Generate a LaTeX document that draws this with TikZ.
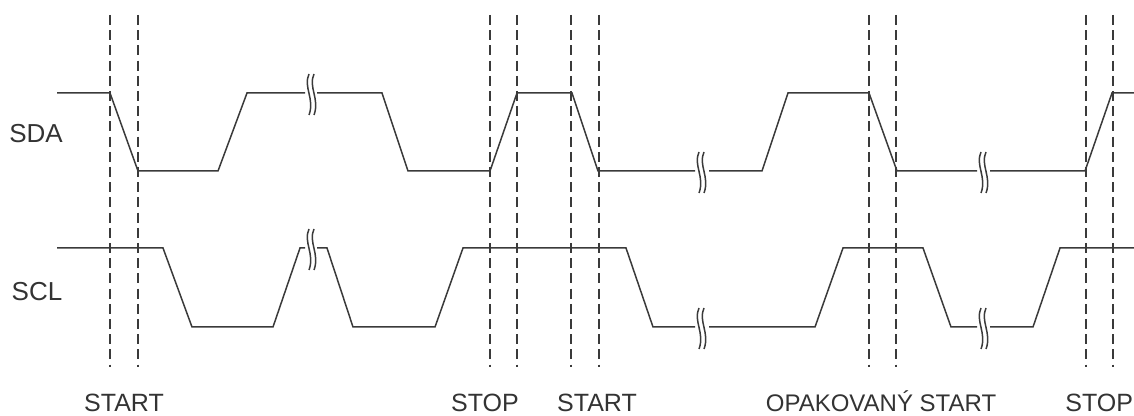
\documentclass[tikz,border=0pt]{standalone}
\usepackage{fontspec}
\setmainfont{Liberation Sans}
\usepackage{xcolor}
\usetikzlibrary{calc}
\definecolor{signal}{HTML}{3A3A3A}
\definecolor{popis}{HTML}{333333}
\tikzset{
  sig/.style={draw=signal, line width=0.75pt, line join=miter},
  dashline/.style={draw=signal, line width=0.6pt, dash pattern=on 5pt off 2.6pt},
  lbl/.style={text=popis, font=\fontsize{12.5}{14}\selectfont, inner sep=0pt},
  siglbl/.style={lbl, font=\fontsize{13}{15}\selectfont}
}
% dvojita vlnovka preruseni signalu
\newcommand{\zlom}[2]{%
  \draw[sig, shift={(#1,#2)}] (4,-19) .. controls (-2,-6) and (10,6) .. (4,22);
  \draw[sig, shift={(#1,#2)}] (9,-19) .. controls (3,-6) and (15,6) .. (9,22);}

\begin{document}
\begin{tikzpicture}[x=0.5pt, y=-0.5pt]
      \useasboundingbox (0,0) rectangle (1134,416);
      % svisle casove znacky
      \foreach \x in {110,138,490,517,571,599,869,896,1086,1113}
        \draw[dashline] (\x,15) -- (\x,367);
      % SDA
      \draw[sig] (57,93) -- (110,93) -- (138,171) -- (218,171) -- (247,93) -- (305,93);
      \draw[sig] (317,93) -- (382,93) -- (408,171) -- (490,171) -- (517,93) -- (572,93)
                 -- (598,171) -- (695,171);
      \draw[sig] (709,171) -- (762,171) -- (788,93) -- (869,93) -- (897,171) -- (977,171);
      \draw[sig] (990,171) -- (1085,171) -- (1112,93) -- (1134,93);
      \zlom{305}{93}
      \zlom{695}{171}
      \zlom{977}{171}
      % SCL
      \draw[sig] (57,248) -- (163,248) -- (192,327) -- (273,327) -- (300,248) -- (305,248);
      \draw[sig] (317,248) -- (327,248) -- (353,327) -- (435,327) -- (463,248) -- (626,248)
                 -- (653,327) -- (695,327);
      \draw[sig] (709,327) -- (815,327) -- (843,248) -- (923,248) -- (951,327) -- (977,327);
      \draw[sig] (990,327) -- (1033,327) -- (1060,248) -- (1134,248);
      \zlom{305}{248}
      \zlom{695}{327}
      \zlom{977}{327}
      % popisy
      \node[siglbl] (sda) at (36,134) {SDA};
      \node[siglbl] (scl) at (37,292) {SCL};
      \node[lbl, anchor=base] (start1) at (124,411) {START};
      \node[lbl, anchor=base] (stop1) at (485,411) {STOP};
      \node[lbl, anchor=base] (start2) at (597,411) {START};
      \node[lbl, anchor=base, font=\fontsize{12}{14}\selectfont] (opak) at (881,411) {OPAKOVANÝ START};
      \node[lbl, anchor=base west] (stop2) at (1065,411) {STOP};
\end{tikzpicture}
\end{document}
